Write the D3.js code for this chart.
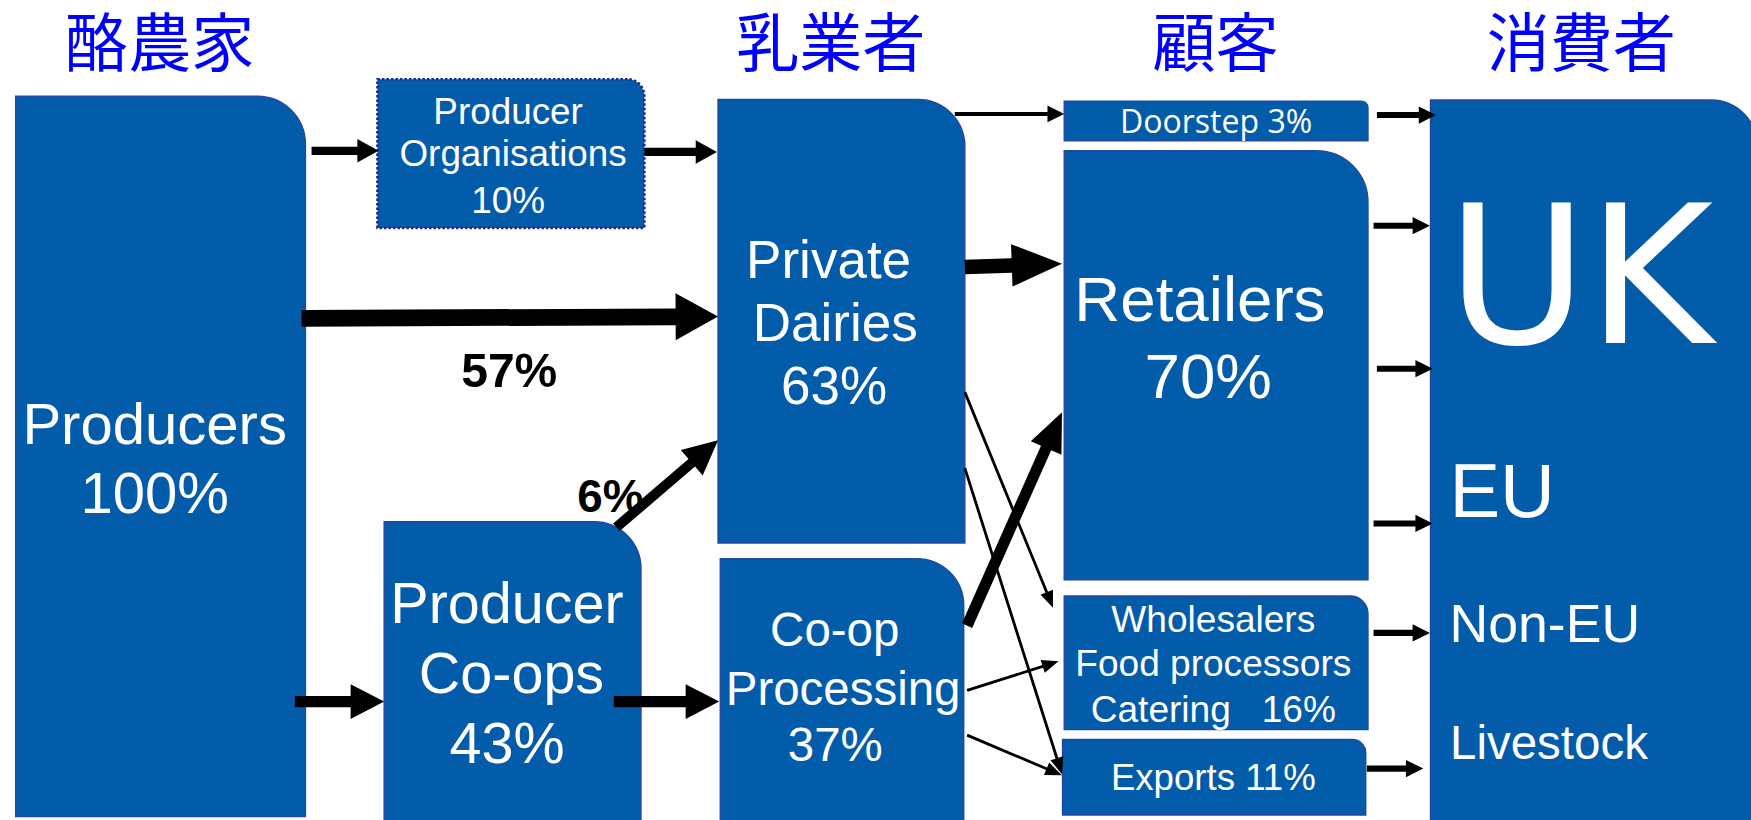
<!DOCTYPE html>
<html>
<head>
<meta charset="utf-8">
<script src="https://cdn.jsdelivr.net/npm/d3@7"></script>
<style>
html,body{margin:0;padding:0;background:#ffffff;overflow:hidden}
svg{display:block}
</style>
</head>
<body>
<svg id="chart"></svg>
<script>
// ---------------- DATA ----------------
const stages = ["酪農家", "乳業者", "顧客", "消費者"];
const nodeIds = ["producers", "po", "coops", "pd", "cp", "doorstep", "retailers", "wholesalers", "exports", "consumers"];
const nodeLabels = [
  ["Producers"],
  ["Producer", "Organisations"],
  ["Producer", "Co-ops"],
  ["Private", "Dairies"],
  ["Co-op", "Processing"],
  ["Doorstep"],
  ["Retailers"],
  ["Wholesalers", "Food processors", "Catering"],
  ["Exports"],
  []
];
const nodeShares = [100, 10, 43, 63, 37, 3, 70, 16, 11, null];
const consumerMarkets = ["UK", "EU", "Non-EU", "Livestock"];
const linkSources = ["producers", "po", "producers", "producers", "coops", "coops", "pd", "pd", "pd", "pd", "cp", "cp", "cp", "doorstep", "retailers", "retailers", "retailers", "wholesalers", "exports"];
const linkTargets = ["po", "pd", "pd", "coops", "pd", "cp", "doorstep", "retailers", "wholesalers", "exports", "retailers", "wholesalers", "exports", "consumers", "consumers", "consumers", "consumers", "consumers", "consumers"];
const linkLabels = [null, null, "57%", null, "6%", null, null, null, null, null, null, null, null, null, null, null, null, null, null];

// ---------------- LAYOUT (design units, 1568 x 734) ----------------
const W = 1751, H = 820;
const x = d3.scaleLinear().domain([0, 1568]).range([0, W]);
const y = d3.scaleLinear().domain([0, 734]).range([0, H]);
const k = W / 1568;

const stageLayout = [143, 744, 1088.5, 1416];
const stageBaseline = 58.7, stageFont = 56.5;

const nodeLayout = {
  producers:  {x0: 14,   y0: 86,  x1: 273.5, y1: 731, r: 43, cx: [138.5, 138.5], font: 52,   base: [397, 459], mode: "line"},
  po:         {x0: 338,  y0: 71,  x1: 577,  y1: 204, r: 15, cx: [455, 459.5, 455], font: 33, base: [111, 149, 191], mode: "line", dotted: true},
  coops:      {x0: 344,  y0: 467, x1: 574,  y1: 740, r: 42, cx: [454, 458, 454], font: 51.5, base: [558, 620, 683], mode: "line"},
  pd:         {x0: 643,  y0: 89,  x1: 864,  y1: 486, r: 42, cx: [742, 748, 747], font: 47.5, base: [249, 305, 362], mode: "line"},
  cp:         {x0: 645,  y0: 500, x1: 863,  y1: 740, r: 42, cx: [747.5, 755, 748], font: 42.5, base: [578, 631, 681], mode: "line"},
  doorstep:   {x0: 953,  y0: 90.5,x1: 1225, y1: 126, r: 6,  cx: [1089], font: 28.7, base: [119], mode: "append", sep: " ", family: "'Open Sans', 'Noto Sans', sans-serif"},
  retailers:  {x0: 953,  y0: 135, x1: 1225, y1: 519, r: 46, cx: [1074.5, 1082], font: 57, base: [287, 356], mode: "line"},
  wholesalers:{x0: 953,  y0: 533.5,x1: 1225,y1: 653, r: 16, cx: [1086.5, 1086.5, 1086.5], font: 33.2, base: [566, 605, 646], mode: "append", sep: "   "},
  exports:    {x0: 951.5,y0: 662, x1: 1223, y1: 729.5, r: 12, cx: [1086.5], font: 32.8, base: [707.5], mode: "append", sep: " "},
  consumers:  {x0: 1281, y0: 89.5,x1: 1574, y1: 740, r: 42}
};
const marketLayout = [
  {x: 1295.5, base: 307, font: 172, family: "'DejaVu Sans', sans-serif"},
  {x: 1298, base: 463, font: 68},
  {x: 1298, base: 575, font: 48},
  {x: 1298.5, base: 679, font: 42.5}
];
const linkLabelLayout = {2: {x: 413, base: 346, font: 43}, 4: {x: 517, base: 458, font: 41}};
const arrowLayout = [
  {p0: [279, 135],   p1: [339, 135],   w: 7.5, hw: 21, hl: 19},
  {p0: [577, 136],   p1: [642, 136],   w: 7.5, hw: 21, hl: 19},
  {p0: [270, 285],   p1: [643, 283.4], w: 15,  hw: 42, hl: 38},
  {p0: [264, 628],   p1: [344, 628],   w: 10,  hw: 31, hl: 30},
  {p0: [552, 472],   p1: [643, 394],   w: 9,   hw: 30, hl: 31},
  {p0: [549.6, 628], p1: [644, 628],   w: 10,  hw: 31, hl: 30},
  {p0: [855, 102],   p1: [953, 102],   w: 3.6, hw: 15, hl: 15},
  {p0: [864, 239],   p1: [951, 236],   w: 13,  hw: 38, hl: 45},
  {p0: [864, 351],   p1: [943, 544],   w: 2.5, hw: 12, hl: 15},
  {p0: [864, 419],   p1: [951, 693],   w: 2.5, hw: 12, hl: 15},
  {p0: [866, 560],   p1: [951, 369],   w: 10,  hw: 30, hl: 35},
  {p0: [866, 618],   p1: [948, 592],   w: 2.5, hw: 12, hl: 15},
  {p0: [866, 658],   p1: [951, 694],   w: 2.5, hw: 12, hl: 15},
  {p0: [1233, 103],  p1: [1286, 103],  w: 5.4, hw: 15.5, hl: 15.5},
  {p0: [1230, 202],  p1: [1280.5, 202],w: 5.4, hw: 15.5, hl: 15.5},
  {p0: [1233, 330],  p1: [1283, 330],  w: 5.4, hw: 15.5, hl: 15.5},
  {p0: [1230, 468.5],p1: [1283, 468.5],w: 5.4, hw: 15.5, hl: 15.5},
  {p0: [1230, 566.5],p1: [1280.5, 566.5], w: 5.4, hw: 15.5, hl: 15.5},
  {p0: [1224, 688],  p1: [1274.5, 688],w: 5.4, hw: 15.5, hl: 15.5}
];

const FILL = "#035ca9", EDGE = "#2348a0";
const SANS = "'Liberation Sans', Arial, sans-serif";

// ---------------- DRAW ----------------
const svg = d3.select("#chart").attr("width", W).attr("height", H);
svg.append("rect").attr("width", W).attr("height", H).attr("fill", "#fff");

// stage headers (Latin primary font keeps the text box within the page; CJK glyphs fall back to Noto CJK)
svg.append("g").selectAll("text").data(stages).join("text")
  .attr("x", (d, i) => x(stageLayout[i]))
  .attr("y", y(stageBaseline))
  .attr("text-anchor", "middle")
  .attr("font-family", "'Liberation Sans', 'Noto Sans CJK JP', 'Noto Sans CJK SC', sans-serif")
  .attr("font-size", stageFont * k)
  .attr("fill", "#0000ff")
  .text(d => d);

function roundTR(n) {
  const x0 = x(n.x0), y0 = y(n.y0), x1 = x(n.x1), y1 = y(n.y1), r = n.r * k;
  const p = d3.path();
  p.moveTo(x0, y0);
  p.lineTo(x1 - r, y0);
  p.arcTo(x1, y0, x1, y0 + r, r);
  p.lineTo(x1, y1);
  p.lineTo(x0, y1);
  p.closePath();
  return p.toString();
}

const nodes = nodeIds.map((id, i) => ({id, lines: nodeLabels[i], share: nodeShares[i], L: nodeLayout[id]}));

// boxes
svg.append("g").selectAll("path").data(nodes).join("path")
  .attr("d", d => roundTR(d.L))
  .attr("fill", FILL)
  .attr("stroke", d => d.L.dotted ? "#1a2d8c" : EDGE)
  .attr("stroke-width", d => d.L.dotted ? 2.6 : 1.4)
  .attr("stroke-dasharray", d => d.L.dotted ? "2.5,2" : null);

// node labels
nodes.forEach(n => {
  if (!n.lines.length) return;
  let lines = n.lines.slice();
  const pct = n.share + "%";
  if (n.L.mode === "append") lines[lines.length - 1] = lines[lines.length - 1] + n.L.sep + pct;
  else lines.push(pct);
  svg.append("g").selectAll("text").data(lines).join("text")
    .attr("x", (d, i) => x(n.L.cx[i]))
    .attr("y", (d, i) => y(n.L.base[i]))
    .attr("text-anchor", "middle")
    .attr("font-family", n.L.family || SANS)
    .attr("font-size", n.L.font * k)
    .attr("fill", "#ffffff")
    .style("white-space", "pre")
    .text(d => d);
});

// consumer markets
svg.append("g").selectAll("text").data(consumerMarkets).join("text")
  .attr("x", (d, i) => x(marketLayout[i].x))
  .attr("y", (d, i) => y(marketLayout[i].base))
  .attr("font-family", (d, i) => marketLayout[i].family || SANS)
  .attr("font-size", (d, i) => marketLayout[i].font * k)
  .attr("fill", "#ffffff")
  .text(d => d);

// link labels
svg.append("g").selectAll("text")
  .data(linkLabels.map((t, i) => ({t, i})).filter(d => d.t))
  .join("text")
  .attr("x", d => x(linkLabelLayout[d.i].x))
  .attr("y", d => y(linkLabelLayout[d.i].base))
  .attr("font-family", SANS)
  .attr("font-weight", "bold")
  .attr("font-size", d => linkLabelLayout[d.i].font * k)
  .attr("fill", "#000")
  .text(d => d.t);

// arrows
function arrowPath(a) {
  const sx = x(a.p0[0]), sy = y(a.p0[1]), tx = x(a.p1[0]), ty = y(a.p1[1]);
  const dx = tx - sx, dy = ty - sy, len = Math.hypot(dx, dy);
  const ux = dx / len, uy = dy / len, nx = -uy, ny = ux;
  const w = a.w * k / 2, hw = a.hw * k / 2, hl = a.hl * k;
  const bx = tx - ux * hl, by = ty - uy * hl;
  const pts = [
    [sx + nx * w, sy + ny * w],
    [bx + nx * w, by + ny * w],
    [bx + nx * hw, by + ny * hw],
    [tx, ty],
    [bx - nx * hw, by - ny * hw],
    [bx - nx * w, by - ny * w],
    [sx - nx * w, sy - ny * w]
  ];
  return d3.line()(pts) + "Z";
}
const links = linkSources.map((s, i) => ({s, t: linkTargets[i], A: arrowLayout[i]}));
svg.append("g").selectAll("path").data(links).join("path")
  .attr("d", d => arrowPath(d.A))
  .attr("fill", "#000");
</script>
</body>
</html>
